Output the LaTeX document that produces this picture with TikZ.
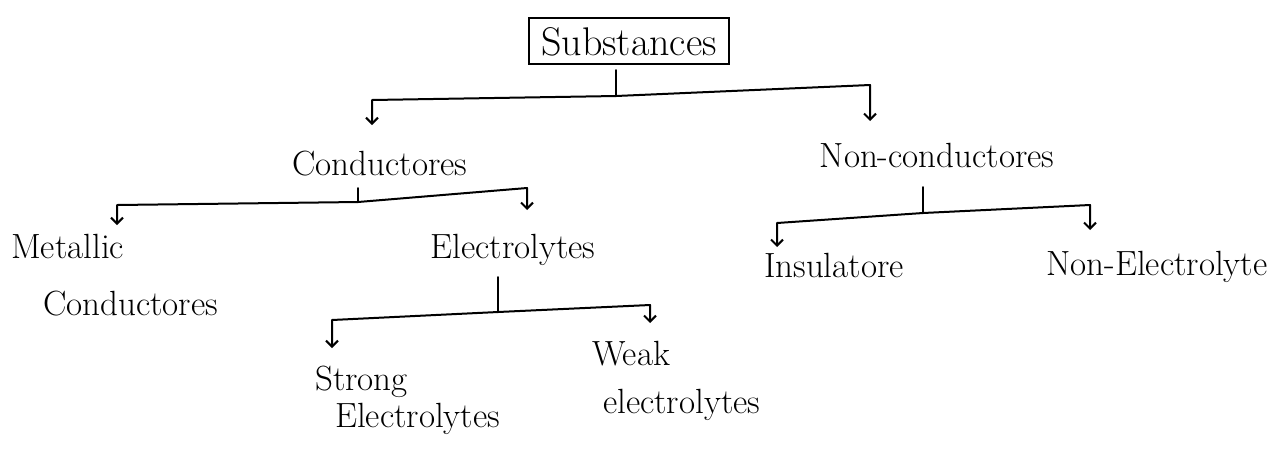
\documentclass[tikz,border=0pt]{standalone}
\usepackage{tikz}
\usetikzlibrary{arrows.meta}
\tikzstyle{word} = [inner sep=0pt, font=\fontsize{35}{42}\selectfont]
\tikzstyle{stem} = [line width=2pt, line cap=round, line join=round]
\tikzstyle{drop} = [stem, -{Straight Barb[length=6pt, width=12pt]}]

\begin{document}
\begin{tikzpicture}[x=1pt, y=-1pt]

        \useasboundingbox (0,0) rectangle (1273,459);

        \node (subst) [word, draw, line width=2pt, anchor=base, minimum width=200pt, minimum height=46pt, font=\fontsize{40}{44}\selectfont] at (629,55) {Substances};

        \node (cond) [word, anchor=base] at (380,175) {Conductores};
        \node (noncond) [word, anchor=base] at (937,167) {Non-conductores};

        \node (metal) [word, align=left, anchor=north west] at (11,234) {Metallic\\[15pt]\hspace*{32pt}Conductores};
        \node (electro) [word, anchor=base] at (513,258) {Electrolytes};
        \node (insul) [word, anchor=base] at (834,277) {Insulatore};
        \node (nonelec) [word, anchor=base] at (1157,275) {Non-Electrolyte};

        \node (strong) [word, align=left, anchor=north west] at (315,366) {Strong\\[-5pt]\hspace*{20pt}Electrolytes};
        \node (weak) [word, align=left, anchor=north west] at (592,341) {Weak\\[6pt]\hspace*{11pt}electrolytes};

        % junctions under each parent
        \coordinate (subst-j) at (616,96);
        \coordinate (cond-j) at (358,202);
        \coordinate (noncond-j) at (923,213);
        \coordinate (electro-j) at (498,312);

        % arrow ends above each child
        \coordinate (cond-in) at (372,125);
        \coordinate (noncond-in) at (870,121);
        \coordinate (metal-in) at (117,225);
        \coordinate (electro-in) at (527,210);
        \coordinate (insul-in) at (777,247);
        \coordinate (nonelec-in) at (1090,230);
        \coordinate (strong-in) at (332,348);
        \coordinate (weak-in) at (650,323);

        \draw [stem] (subst-j) -- ++(0,-26);
        \draw [drop] (subst-j) -- (372,100) -- (cond-in);
        \draw [drop] (subst-j) -- (870,85) -- (noncond-in);

        \draw [stem] (cond-j) -- ++(0,-14);
        \draw [drop] (cond-j) -- (117,205) -- (metal-in);
        \draw [drop] (cond-j) -- (527,188) -- (electro-in);

        \draw [stem] (noncond-j) -- ++(0,-26);
        \draw [drop] (noncond-j) -- (777,223) -- (insul-in);
        \draw [drop] (noncond-j) -- (1090,205) -- (nonelec-in);

        \draw [stem] (electro-j) -- ++(0,-35);
        \draw [drop] (electro-j) -- (332,320) -- (strong-in);
        \draw [drop] (electro-j) -- (650,305) -- (weak-in);

    \end{tikzpicture}
\end{document}
